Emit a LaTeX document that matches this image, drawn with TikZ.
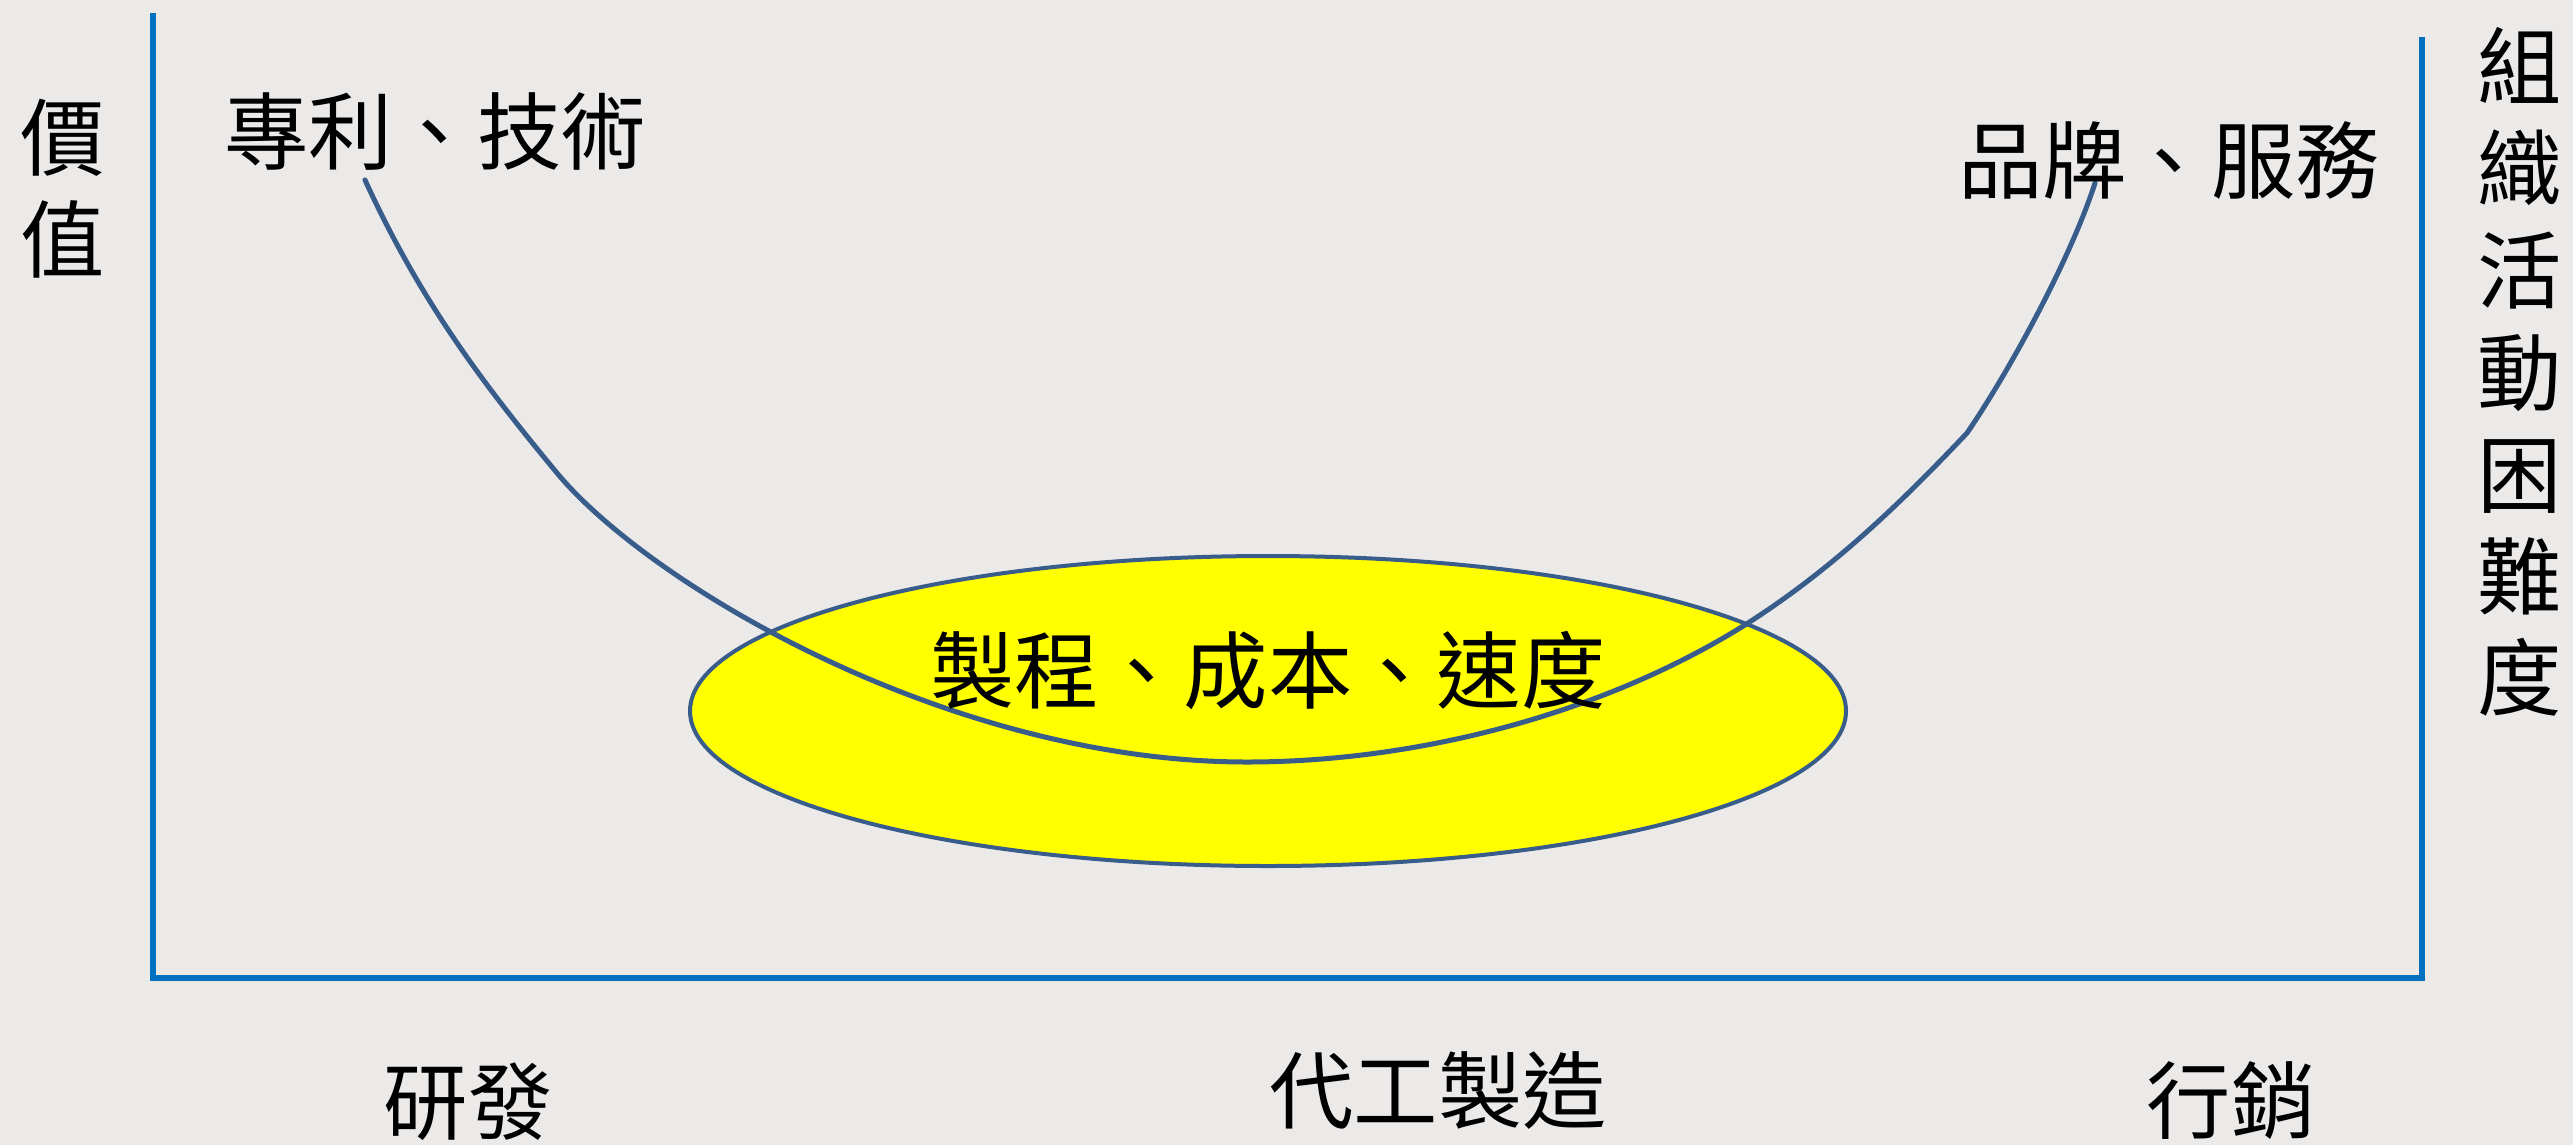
\documentclass[tikz,border=0pt]{standalone}
\usepackage{fontspec}
\newfontfamily\cjk{Noto Sans CJK TC}
\usetikzlibrary{shapes.geometric}
\definecolor{bgc}{RGB}{236,233,233}
\definecolor{axisblue}{RGB}{0,112,192}
\definecolor{curveblue}{RGB}{56,93,138}
\definecolor{zoneyellow}{RGB}{255,255,0}
\begin{document}
\begin{tikzpicture}[x=0.1mm,y=-0.1mm,
  lbl/.style={font=\cjk\fontsize{24}{29}\selectfont, inner sep=0pt, align=center, text=black},
  axisline/.style={draw=axisblue, line width=0.55mm, line join=miter},
  ucurve/.style={draw=curveblue, line width=0.5mm, line cap=round, line join=round},
  zone/.style={ellipse, draw=curveblue, line width=0.4mm, fill=zoneyellow, minimum width=115.6mm, minimum height=31mm, inner sep=0pt}]
\fill[bgc] (0,0) rectangle (2573,1145);
\useasboundingbox (0,0) rectangle (2573,1145);
% axes
\coordinate (ytop) at (153,13);
\coordinate (origin) at (153,978);
\coordinate (xend) at (2422,978);
\coordinate (rtop) at (2422,37);
\draw[axisline] (ytop) -- (origin) -- (xend) -- (rtop);
% ellipse zone
\node[zone] (ell) at (1268,711) {};
% smile curve
\coordinate (c0) at (365,180);
\coordinate (c1) at (557,473);
\coordinate (c2) at (1247,762);
\coordinate (c3) at (1748,623);
\coordinate (c4) at (1967,433);
\coordinate (c5) at (2095,183);
\draw[ucurve] (c0) .. controls (420,300) and (480,380) .. (c1)
  .. controls (650,585) and (950,762) .. (c2)
  .. controls (1417,762) and (1604,714) .. (c3)
  .. controls (1832,569) and (1898,506) .. (c4)
  .. controls (2010,370) and (2070,260) .. (c5);
% labels
\node[lbl] (value) at (63,189) {價\\值};
\node[lbl] (patent) at (435,131) {專利、技術};
\node[lbl] (brand) at (2169,160) {品牌、服務};
\node[lbl] (difficulty) at (2520,372) {組\\織\\活\\動\\困\\難\\度};
\node[lbl] (mfg) at (1268,671) {製程、成本、速度};
\node[lbl] (rd) at (468,1102) {研發};
\node[lbl] (oem) at (1438,1091) {代工製造};
\node[lbl] (mkt) at (2231,1101) {行銷};
\end{tikzpicture}
\end{document}
